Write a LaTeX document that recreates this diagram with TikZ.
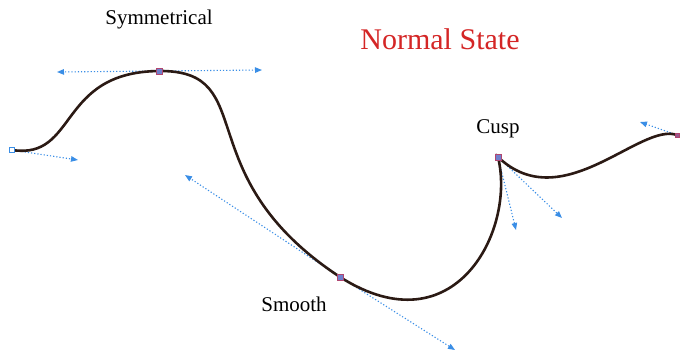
\documentclass[tikz,border=0pt]{standalone}
\usepackage{fontspec}
\setmainfont{Liberation Serif}
\usepackage{tikz}
\usetikzlibrary{arrows.meta}
\definecolor{handleblue}{HTML}{3A8EE6}
\definecolor{curvebrown}{HTML}{2B1A14}
\definecolor{knotfill}{HTML}{6F7FCC}
\definecolor{titlered}{HTML}{D42626}

\begin{document}
\begin{tikzpicture}[
        x=1pt, y=-1pt,
        every node/.style={font=\fontsize{21}{24}\selectfont},
        curve/.style={draw=curvebrown, line width=2.6pt},
        handle/.style={draw=handleblue, line width=1.1pt, dash pattern=on 1.2pt off 2pt, -{Triangle[length=7pt,width=5.5pt]}},
        knot/.style={draw=red!45!knotfill, fill=knotfill, minimum size=6pt, inner sep=0pt, line width=0.6pt},
        endknot/.style={draw=handleblue, fill=white, minimum size=5pt, inner sep=0pt, line width=0.8pt},
        label/.style={text=black}
    ]
        \useasboundingbox (0,0) rectangle (681,360);

        % knots of the path
        \coordinate (start) at (12,150);
        \coordinate (sym) at (159,71);
        \coordinate (smooth) at (340,277);
        \coordinate (cusp) at (498,157);
        \coordinate (finish) at (677,135);

        % control handles
        \coordinate (startout) at (78,160);
        \coordinate (symin) at (57,72);
        \coordinate (symout) at (262,70);
        \coordinate (smoothin) at (185,175);
        \coordinate (smoothout) at (455,350);
        \coordinate (cuspin) at (516,230);
        \coordinate (cuspout) at (562,218);
        \coordinate (finishin) at (640,122);

        % dotted handle arrows
        \draw[handle] (start) -- (startout);
        \draw[handle] (sym) -- (symin);
        \draw[handle] (sym) -- (symout);
        \draw[handle] (smooth) -- (smoothin);
        \draw[handle] (smooth) -- (smoothout);
        \draw[handle] (cusp) -- (cuspin);
        \draw[handle] (cusp) -- (cuspout);
        \draw[handle] (finish) -- (finishin);

        % the curve itself
        \draw[curve] (start) .. controls (startout) and (symin) .. (sym)
            .. controls (symout) and (smoothin) .. (smooth)
            .. controls (smoothout) and (cuspin) .. (cusp)
            .. controls (cuspout) and (finishin) .. (finish);

        % knot markers
        \node[endknot] (startmark) at (start) {};
        \node[knot] (symmark) at (sym) {};
        \node[knot] (smoothmark) at (smooth) {};
        \node[knot] (cuspmark) at (cusp) {};
        \node[knot, minimum size=4pt, fill=red!30!knotfill] (finishmark) at (finish) {};

        % labels
        \node[label] (symlabel) at (159,19) {Symmetrical};
        \node[label] (smoothlabel) at (294,304) {Smooth};
        \node[label] (cusplabel) at (498,129) {Cusp};
        \node[text=titlered, font=\fontsize{30}{34}\selectfont] (title) at (440,39) {Normal State};
    \end{tikzpicture}
\end{document}
